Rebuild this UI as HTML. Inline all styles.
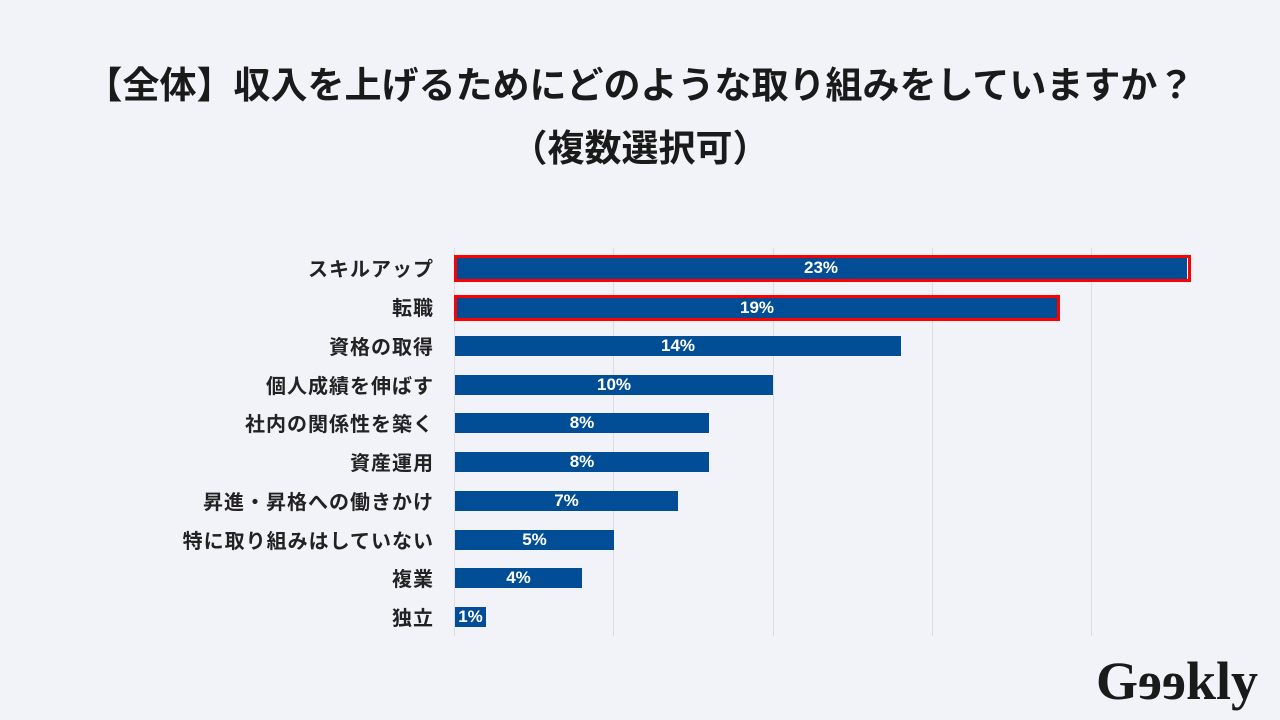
<!DOCTYPE html>
<html><head><meta charset="utf-8"><style>
body{margin:0;width:1280px;height:720px;background:#f2f3f8;position:relative;overflow:hidden;font-family:"Liberation Sans","Noto Sans CJK JP",sans-serif;}
.t{position:absolute;left:0;width:1280px;text-align:center;font-weight:bold;font-size:37px;color:#1a1a1a;}
.g{position:absolute;top:248px;height:388px;width:1px;background:#dcdde2;}
.l{position:absolute;right:846px;font-size:20px;letter-spacing:1px;font-weight:bold;color:#222;white-space:nowrap;}
.b{position:absolute;left:455px;height:20px;background:#024e96;color:#fff;font-weight:bold;font-size:17px;text-align:center;line-height:20px;}
.r{position:absolute;border:3px solid #ff0000;box-sizing:border-box;}
.logo{position:absolute;left:1096px;top:650px;font-family:"Liberation Serif",serif;font-weight:bold;font-size:54px;color:#1a1a1a;letter-spacing:0px;}
.logo span{display:inline-block;transform:scaleX(-1);}
</style></head><body>
<div class="t" style="top:55px">【全体】収入を上げるためにどのような取り組みをしていますか？</div>
<div class="t" style="top:118px">（複数選択可）</div>
<div class="g" style="left:454px"></div><div class="g" style="left:613px"></div><div class="g" style="left:773px"></div><div class="g" style="left:932px"></div><div class="g" style="left:1091px"></div>
<div class="l" style="top:253px">スキルアップ</div>
<div class="l" style="top:292px">転職</div>
<div class="l" style="top:331px">資格の取得</div>
<div class="l" style="top:370px">個人成績を伸ばす</div>
<div class="l" style="top:408px">社内の関係性を築く</div>
<div class="l" style="top:447px">資産運用</div>
<div class="l" style="top:486px">昇進・昇格への働きかけ</div>
<div class="l" style="top:525px">特に取り組みはしていない</div>
<div class="l" style="top:563px">複業</div>
<div class="l" style="top:602px">独立</div>
<div class="b" style="top:258px;width:732px;height:21px">23%</div>
<div class="b" style="top:298px;width:604px">19%</div>
<div class="b" style="top:336px;width:446px">14%</div>
<div class="b" style="top:375px;width:318px">10%</div>
<div class="b" style="top:413px;width:254px">8%</div>
<div class="b" style="top:452px;width:254px">8%</div>
<div class="b" style="top:491px;width:223px">7%</div>
<div class="b" style="top:530px;width:159px">5%</div>
<div class="b" style="top:568px;width:127px">4%</div>
<div class="b" style="top:607px;width:31px">1%</div>
<div class="r" style="left:454px;top:255px;width:737px;height:27px"></div>
<div class="r" style="left:454px;top:295px;width:606px;height:26px"></div>
<div class="logo">G<span>e</span><span>e</span>kly</div>
</body></html>
